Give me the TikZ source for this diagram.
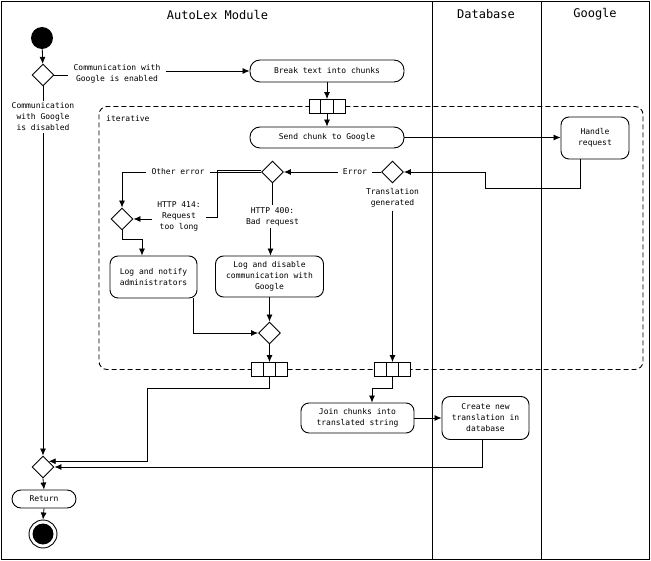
\documentclass[tikz,border=0pt]{standalone}
\usepackage{fontspec}
\setmainfont{DejaVu Sans Mono}
\usetikzlibrary{arrows.meta,shapes.geometric,calc}
\begin{document}
\begin{tikzpicture}[x=1pt,y=-1pt,
 act/.style={draw,rounded corners=8pt,line width=0.9pt,align=center,font=\fontsize{8}{11}\selectfont,inner sep=0pt},
 dec/.style={draw,diamond,minimum width=22pt,minimum height=22pt,inner sep=0pt,line width=0.9pt,fill=white},
 lbl/.style={align=center,font=\fontsize{8}{11}\selectfont,inner xsep=5pt,inner ysep=1.5pt},
 hdr/.style={font=\fontsize{12}{14}\selectfont},
 arr/.style={-{Latex[length=7pt,width=6pt]},line width=0.8pt},
 ln/.style={line width=0.8pt},
 bar/.style={draw,line width=0.9pt,fill=white,minimum width=36pt,minimum height=14pt,inner sep=0pt},
]
\useasboundingbox (0,0) rectangle (651,561);
\draw[line width=1pt] (1.5,1.5) rectangle (649.5,559);
\draw[line width=1pt] (432,1.5) -- (432,559);
\draw[line width=1pt] (541.5,1.5) -- (541.5,559);
\node[hdr] (h1) at (217.5,14.5) {AutoLex Module};
\node[hdr] (h2) at (486,14.5) {Database};
\node[hdr] (h3) at (595,14.5) {Google};

% iterative region
\draw[line width=0.9pt,dash pattern=on 5pt off 3pt,rounded corners=8pt] (99,106.5) rectangle (643,369.5);
\node[lbl,anchor=west,inner xsep=0pt] (it) at (106,119) {iterative};

% nodes
\node[circle,fill,minimum size=22pt,inner sep=0pt] (start) at (42,38) {};
\node[dec] (d1) at (43,75) {};
\node[lbl] (l1) at (117,73.5) {Communication with\\Google is enabled};
\node[lbl] (cd) at (43,117) {Communication\\with Google\\is disabled};
\node[act,minimum width=154pt,minimum height=22pt,rounded corners=10pt] (brk) at (327,71) {Break text into chunks};
\node[act,minimum width=154pt,minimum height=21pt,rounded corners=10pt] (send) at (327,137.5) {Send chunk to Google};
\node[act,minimum width=68pt,minimum height=42pt] (handle) at (595,138) {Handle\\request};
\node[dec] (d2) at (392.5,172) {};
\node[lbl] (err) at (355,172) {Error};
\node[lbl,inner ysep=3pt] (tg) at (392.5,198) {Translation\\generated};
\node[dec] (d3) at (272.5,172) {};
\node[lbl] (oe) at (178,172) {Other error};
\node[lbl] (h414) at (179,216.5) {HTTP 414:\\Request\\too long};
\node[lbl] (h400) at (272.5,216.5) {HTTP 400:\\Bad request};
\node[dec] (d4) at (122,219) {};
\node[act,minimum width=87pt,minimum height=42pt] (logn) at (153.5,277) {Log and notify\\administrators};
\node[act,minimum width=108pt,minimum height=41pt] (logd) at (269.5,276.5) {Log and disable\\communication with\\Google};
\node[dec] (d5) at (269.5,333) {};
\node[act,minimum width=113pt,minimum height=30pt] (join) at (357.5,418) {Join chunks into\\translated string};
\node[act,minimum width=87pt,minimum height=43pt] (create) at (485.5,418) {Create new\\translation in\\database};
\node[dec] (d6) at (43,467) {};
\node[act,minimum width=64pt,minimum height=18pt,rounded corners=9pt] (ret) at (44,499) {Return};
\node[circle,draw,line width=0.9pt,minimum size=28pt,inner sep=0pt] (end) at (43,534) {};
\fill (end.center) circle (10.5pt);

% fork bars
\foreach \n/\px/\py in {f1/327/106.5, f2/392.5/369.5, f3/269.5/369.5} {
  \node[bar] (\n) at (\px,\py) {};
  \draw[line width=0.9pt] ($(\n.north west)!1/3!(\n.north east)$) -- ($(\n.south west)!1/3!(\n.south east)$);
  \draw[line width=0.9pt] ($(\n.north west)!2/3!(\n.north east)$) -- ($(\n.south west)!2/3!(\n.south east)$);
}

% connectors
\coordinate (c1) at (485,188);
\coordinate (c2) at (217,217);
\coordinate (c3) at (147,388);
\coordinate (c4) at (372,388);
\draw[arr] (start) -- (d1);
\draw[ln] (d1.east) -- (d1.east -| l1.west);
\draw[arr] (l1.east |- brk.west) -- (brk.west);
\draw[arr] (brk) -- (f1);
\draw[arr] (f1) -- (send);
\draw[arr] (send.east) -- (send.east -| handle.west);
\draw[arr] ([xshift=-15pt]handle.south) |- (c1) |- (d2.east);
\draw[ln] (d2.west) -- (err.east);
\draw[arr] (err.west) -- (d3.east);
\draw[arr] (tg.south) -- (f2.north);
\draw[ln] (d3.west) -- (oe.east);
\draw[arr] (oe.west) -| (d4.north);
\draw[ln] ([yshift=2pt]d3.west) -| (c2) -- (c2 -| h414.east);
\draw[arr] (h414.west |- d4.east) -- (d4.east);
\draw[ln] (d3.south) -- (h400.north);
\draw[arr] ([xshift=-2pt]h400.south) -- ([xshift=-2pt]h400.south |- logd.north);
\draw[arr] (d4.south) -- ++(0,9) -| ([xshift=-11.5pt]logn.north);
\draw[arr] (logd.south) -- (d5.north);
\draw[arr] ([xshift=40pt]logn.south) |- (d5.west);
\draw[arr] (d5.south) -- (f3.north);
\draw[arr] (f3.south) |- (c3) |- (d6.north east);
\draw[arr] (f2.south) |- (c4) -- (c4 |- join.north);
\draw[arr] (join.east) -- (create.west);
\draw[arr] ([xshift=-3pt]create.south) |- (d6.east);
\draw[ln] (d1.south) -- (cd.north);
\draw[arr] (cd.south) -- (d6.north);
\draw[arr] (d6.south) -- (ret.north);
\draw[arr] (ret.south) -- (end.north);
\end{tikzpicture}
\end{document}
